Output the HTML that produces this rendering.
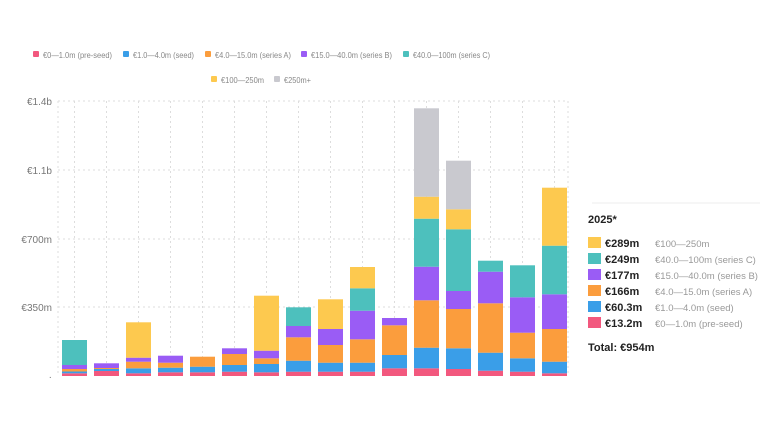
<!DOCTYPE html>
<html><head><meta charset="utf-8"><style>
body{margin:0;width:768px;height:432px;background:#fff;overflow:hidden;font-family:"Liberation Sans",sans-serif}
</style></head><body>
<svg width="768" height="432" xmlns="http://www.w3.org/2000/svg" font-family="Liberation Sans, sans-serif">
<g stroke="#ddd" stroke-dasharray="2,3" stroke-width="1">
<line x1="58" y1="101" x2="568" y2="101"/><line x1="58" y1="170" x2="568" y2="170"/>
<line x1="58" y1="239" x2="568" y2="239"/><line x1="58" y1="307" x2="568" y2="307"/>
<line x1="58" y1="101" x2="58" y2="376"/><line x1="568" y1="101" x2="568" y2="376"/>
<g id="v"></g>
</g>
<g font-size="10" fill="#777" text-anchor="end">
<text x="52" y="105">€1.4b</text><text x="52" y="174">€1.1b</text>
<text x="52" y="243">€700m</text><text x="52" y="311">€350m</text><text x="52" y="380">·</text>
</g>
<g id="bars"></g>
<g font-size="8.5" fill="#888" lengthAdjust="spacingAndGlyphs">
<rect x="33" y="51" width="6" height="6" rx="1" fill="#f2587e"/><text x="43" y="58" textLength="69" lengthAdjust="spacingAndGlyphs">€0—1.0m (pre-seed)</text>
<rect x="123" y="51" width="6" height="6" rx="1" fill="#3a9ee8"/><text x="133" y="58" textLength="61" lengthAdjust="spacingAndGlyphs">€1.0—4.0m (seed)</text>
<rect x="205" y="51" width="6" height="6" rx="1" fill="#fb9d3d"/><text x="215" y="58" textLength="76" lengthAdjust="spacingAndGlyphs">€4.0—15.0m (series A)</text>
<rect x="301" y="51" width="6" height="6" rx="1" fill="#9a5cf5"/><text x="311" y="58" textLength="81" lengthAdjust="spacingAndGlyphs">€15.0—40.0m (series B)</text>
<rect x="403" y="51" width="6" height="6" rx="1" fill="#4dc0bd"/><text x="413" y="58" textLength="77" lengthAdjust="spacingAndGlyphs">€40.0—100m (series C)</text>
<rect x="211" y="76" width="6" height="6" rx="1" fill="#fdc94f"/><text x="221" y="83" textLength="43" lengthAdjust="spacingAndGlyphs">€100—250m</text>
<rect x="274" y="76" width="6" height="6" rx="1" fill="#c9c9cf"/><text x="284" y="83" textLength="27" lengthAdjust="spacingAndGlyphs">€250m+</text>
</g>
<line x1="592" y1="203" x2="760" y2="203" stroke="#eee"/>
<text x="588" y="223" font-size="11" font-weight="bold" fill="#222">2025*</text>
<g font-size="11">
<rect x="588" y="237" width="13" height="11" fill="#fdc94f"/><text x="605" y="247" font-weight="bold" fill="#222">€289m</text><text x="655" y="247" font-size="9.5" fill="#999">€100—250m</text>
<rect x="588" y="253" width="13" height="11" fill="#4dc0bd"/><text x="605" y="263" font-weight="bold" fill="#222">€249m</text><text x="655" y="263" font-size="9.5" fill="#999">€40.0—100m (series C)</text>
<rect x="588" y="269" width="13" height="11" fill="#9a5cf5"/><text x="605" y="279" font-weight="bold" fill="#222">€177m</text><text x="655" y="279" font-size="9.5" fill="#999">€15.0—40.0m (series B)</text>
<rect x="588" y="285" width="13" height="11" fill="#fb9d3d"/><text x="605" y="295" font-weight="bold" fill="#222">€166m</text><text x="655" y="295" font-size="9.5" fill="#999">€4.0—15.0m (series A)</text>
<rect x="588" y="301" width="13" height="11" fill="#3a9ee8"/><text x="605" y="311" font-weight="bold" fill="#222">€60.3m</text><text x="655" y="311" font-size="9.5" fill="#999">€1.0—4.0m (seed)</text>
<rect x="588" y="317" width="13" height="11" fill="#f2587e"/><text x="605" y="327" font-weight="bold" fill="#222">€13.2m</text><text x="655" y="327" font-size="9.5" fill="#999">€0—1.0m (pre-seed)</text>
<text x="588" y="351" font-weight="bold" fill="#222">Total: €954m</text>
</g>
</svg>
<script>
var C={p:"#f2587e",b:"#3a9ee8",o:"#fb9d3d",u:"#9a5cf5",t:"#4dc0bd",y:"#fdc94f",g:"#c9c9cf"};
var D=[
[["p",373.3],["b",371.5],["o",369],["u",365],["t",340]],
[["p",371],["b",369],["o",368],["u",363.3]],
[["p",373.3],["b",368.3],["o",361.7],["u",357.7],["y",322.3]],
[["p",372.3],["b",367.7],["o",362.7],["u",355.7]],
[["p",372.3],["b",366.7],["o",356.7]],
[["p",371.7],["b",365],["o",354],["u",348.3]],
[["p",372.3],["b",364],["o",358.3],["u",350.7],["y",295.7]],
[["p",371.7],["b",360.7],["o",337.3],["u",326],["t",307.3]],
[["p",371.7],["b",362.7],["o",345],["u",329],["y",299.3]],
[["p",371.7],["b",362.7],["o",339.3],["u",310.7],["t",288.3],["y",267]],
[["p",368.3],["b",355],["o",325.3],["u",318]],
[["p",368.3],["b",347.7],["o",300.3],["u",266.7],["t",218.7],["y",196.7],["g",108.3]],
[["p",369],["b",348.3],["o",309],["u",291],["t",229.3],["y",209.3],["g",160.7]],
[["p",370.7],["b",352.7],["o",303.3],["u",271.7],["t",260.7]],
[["p",371.7],["b",358.3],["o",332.7],["u",297.3],["t",265.3]],
[["p",373.3],["b",361.7],["o",329],["u",294.3],["t",245.7],["y",187.7]]];
var s="",v="";
D.forEach(function(b,i){var x=62+32*i,bot=376;v+='<line x1="'+(x+12.5)+'" y1="101" x2="'+(x+12.5)+'" y2="376"/>';
b.forEach(function(q){s+='<rect x="'+x+'" y="'+q[1]+'" width="25" height="'+(bot-q[1])+'" fill="'+C[q[0]]+'"/>';bot=q[1];});});
document.getElementById("bars").innerHTML=s;document.getElementById("v").innerHTML=v;
</script>
</body></html>
